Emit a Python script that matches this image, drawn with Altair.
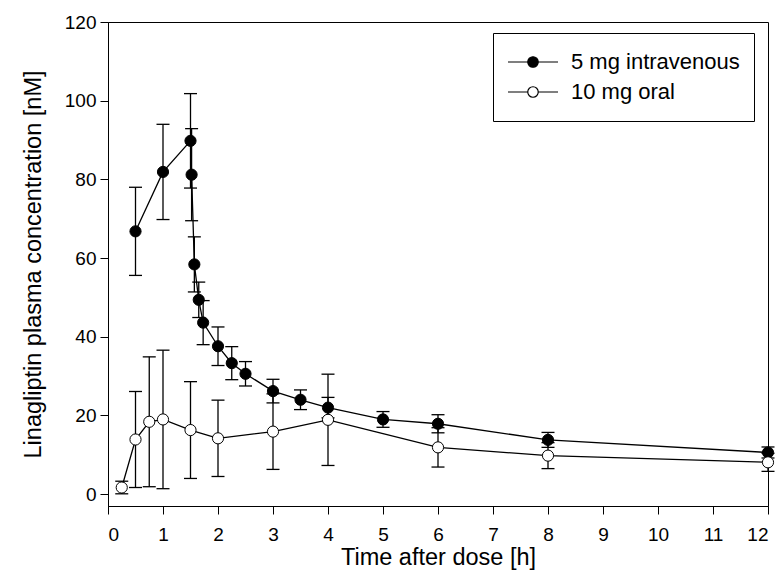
import altair as alt
import pandas as pd

# ---- data ----
series_names = ["5 mg intravenous", "10 mg oral"]
series_fill = ["black", "white"]

iv_time = [0.5, 1, 1.5, 1.52, 1.57, 1.65, 1.73, 2, 2.25, 2.5, 3, 3.5, 4, 5, 6, 8, 12]
iv_mean = [66.8, 81.9, 89.8, 81.2, 58.4, 49.4, 43.6, 37.6, 33.3, 30.6, 26.2, 24.0, 22.0, 19.0, 17.9, 13.8, 10.6]
iv_sd = [11.2, 12.1, 12.0, 11.7, 7.0, 4.5, 5.6, 4.9, 4.2, 3.1, 3.0, 2.5, 2.6, 2.0, 2.3, 1.9, 1.4]

oral_time = [0.25, 0.5, 0.75, 1, 1.5, 2, 3, 4, 6, 8, 12]
oral_mean = [1.7, 13.9, 18.4, 19.0, 16.3, 14.2, 15.9, 18.9, 11.9, 9.8, 8.1]
oral_sd = [1.6, 12.2, 16.5, 17.6, 12.3, 9.7, 9.6, 11.6, 5.0, 3.3, 2.3]

x_ticks = list(range(0, 13))
y_ticks = [0, 20, 40, 60, 80, 100, 120]

rows = []
for name, ts, ms, ss in [(series_names[0], iv_time, iv_mean, iv_sd),
                         (series_names[1], oral_time, oral_mean, oral_sd)]:
    for t, m, s in zip(ts, ms, ss):
        rows.append({"series": name, "time": t, "conc": m,
                     "lo": max(m - s, 0.0), "hi": m + s})
df = pd.DataFrame(rows)

FONT = "Liberation Sans"

xscale = alt.Scale(domain=[0, 12], nice=False, zero=False)
yscale = alt.Scale(domain=[-3, 120], nice=False, zero=False)
xaxis = alt.Axis(values=x_ticks, title="Time after dose [h]", labelPadding=11, titlePadding=1)
yaxis = alt.Axis(values=y_ticks, title="Linagliptin plasma concentration [nM]", titlePadding=19)


def X():
    return alt.X("time:Q", scale=xscale, axis=xaxis)


def Y(field):
    return alt.Y(f"{field}:Q", scale=yscale, axis=yaxis)


base = alt.Chart(df)

bars = base.mark_rule(color="black", strokeWidth=1.3).encode(
    x=X(), y=Y("lo"), y2="hi:Q")
cap_lo = base.mark_tick(orient="horizontal", size=13, thickness=1.3, color="black",
                        opacity=1).encode(x=X(), y=Y("lo"))
cap_hi = base.mark_tick(orient="horizontal", size=13, thickness=1.3, color="black",
                        opacity=1).encode(x=X(), y=Y("hi"))

lines = base.mark_line(color="black", strokeWidth=1.3).encode(
    x=X(), y=Y("conc"), detail="series:N", order="time:Q")

legend_symbol = ("M -1 0 L -0.21 0 M 0.21 0 L 1 0 "
                 "M -0.21 0 A 0.21 0.21 0 1 0 0.21 0 A 0.21 0.21 0 1 0 -0.21 0 Z")

points = base.mark_point(shape="circle", size=125, filled=True, stroke="black",
                         strokeWidth=1, opacity=1, fillOpacity=1).encode(
    x=X(), y=Y("conc"),
    fill=alt.Fill("series:N",
                  scale=alt.Scale(domain=series_names, range=series_fill),
                  legend=alt.Legend(title=None, orient="none", legendX=385, legendY=11,
                                    symbolType=legend_symbol, symbolSize=2500,
                                    symbolStrokeColor="black", symbolStrokeWidth=1.2,
                                    clipHeight=30, rowPadding=0, labelLimit=0,
                                    labelFont=FONT, labelFontSize=22, labelColor="black",
                                    labelOffset=12, padding=14,
                                    strokeColor="black", fillColor="white")),
)

chart = alt.layer(bars, cap_lo, cap_hi, lines, points).properties(
    width=660, height=484,
    background="white",
    autosize=alt.AutoSizeParams(type="none"),
    padding={"left": 108, "top": 22, "right": 15, "bottom": 81},
).configure_view(stroke="black", strokeWidth=1).configure_axis(
    grid=False, domainColor="black", domainWidth=1, tickColor="black", tickWidth=1,
    tickSize=8, labelColor="black", titleColor="black", labelFont=FONT, titleFont=FONT,
    labelFontSize=19, titleFontSize=23.5, titleFontWeight="normal", labelPadding=4,
)

chart.save("out.html", embed_options={"renderer": "svg", "actions": False})
